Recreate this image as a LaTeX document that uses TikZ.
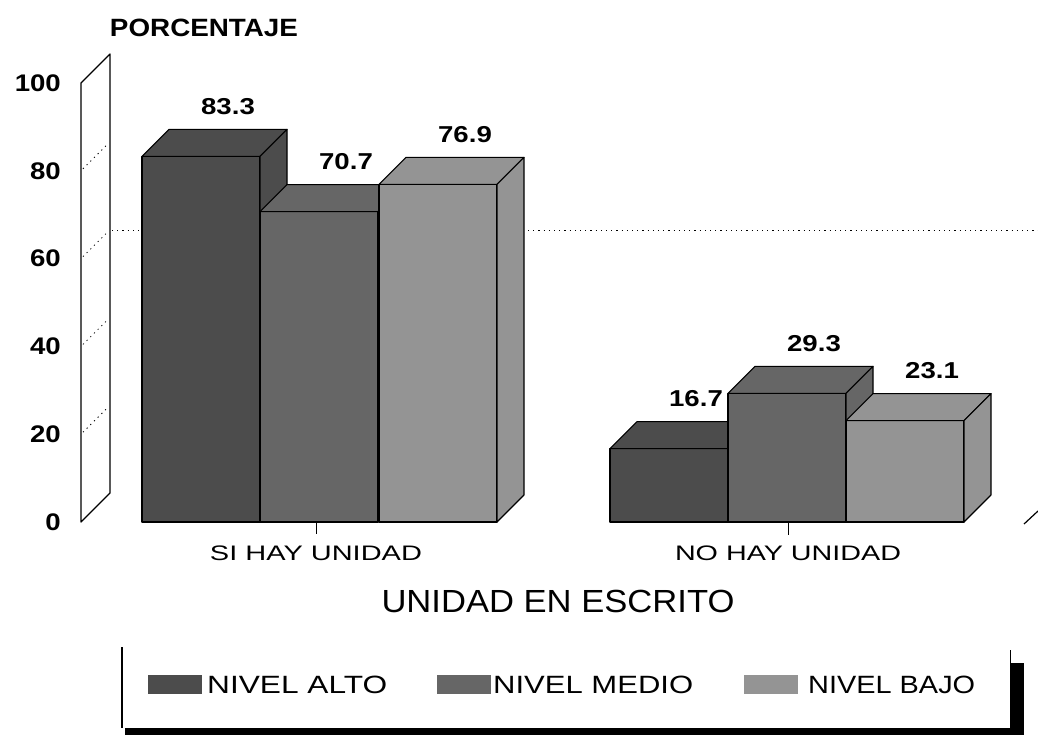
\documentclass[tikz,border=0pt]{standalone}
\usepackage{fontspec}
\setmainfont{Liberation Sans}
\usepackage{graphicx}
\definecolor{alto}{gray}{0.30}
\definecolor{medio}{gray}{0.40}
\definecolor{bajo}{gray}{0.58}
\tikzset{
  edge/.style={draw=black, line width=1.1pt, line join=round},
  wall/.style={draw=black, line width=1.3pt, line join=round},
  grid/.style={draw=black, line width=0.8pt, dash pattern=on 1.2pt off 4pt},
  ylab/.style={anchor=east, inner sep=0pt, font=\fontsize{24}{24}\selectfont\bfseries},
  val/.style={inner sep=0pt, font=\fontsize{23}{23}\selectfont\bfseries},
  cat/.style={inner sep=0pt, font=\fontsize{21}{21}\selectfont},
  ttl/.style={inner sep=0pt, font=\fontsize{32}{32}\selectfont},
  leg/.style={anchor=west, inner sep=0pt, font=\fontsize{25}{25}\selectfont},
  swatch/.style={minimum width=54pt, minimum height=19pt, inner sep=0pt},
}
\newcommand\tdbar[4]{%
  \pgfmathsetmacro\yt{522-4.39*#2}%
  \pgfmathsetmacro\xr{#1+118}%
  \filldraw[edge, fill=#3] (#1,522) rectangle (\xr,\yt);
  \filldraw[edge, fill=#3] (#1,\yt) -- ++(27,-27) -- ++(118,0) -- (\xr,\yt) -- cycle;
  \filldraw[edge, fill=#3] (\xr,522) -- (\xr,\yt) -- ++(27,-27) -- (\xr+27,495) -- cycle;
  \node[val] (#4) at (#1+86,\yt-50) {\scalebox{1.2}[1]{#2}};
}
\begin{document}
\begin{tikzpicture}[x=1pt, y=-1pt]
\useasboundingbox (0,0) rectangle (1038,737);
\fill[white] (0,0) rectangle (1038,737);

% axis wall
\draw[wall] (81,522) -- (81,83) -- (110,54) -- (110,493) -- cycle;
\foreach \v in {20,40,60,80} {
  \draw[grid] (83,{522-4.39*\v-2}) -- (108,{522-4.39*\v-27});
}
% back gridline at 60
\draw[grid] (112,{522-4.39*60-28}) -- (1038,{522-4.39*60-28});

% y labels
\foreach \v/\n in {0/y0,20/y20,40/y40,60/y60,80/y80,100/y100} {
  \node[ylab] (\n) at (61,{522-4.39*\v}) {\scalebox{1.15}[1]{\v}};
}
\node[inner sep=0pt, font=\fontsize{25}{25}\selectfont\bfseries] (ptitle) at (204,28) {\resizebox{188pt}{\height}{PORCENTAJE}};

% bars, group 1
\tdbar{142}{83.3}{alto}{v1}
\tdbar{260}{70.7}{medio}{v2}
\tdbar{379}{76.9}{bajo}{v3}
% bars, group 2
\tdbar{610}{16.7}{alto}{v4}
\tdbar{728}{29.3}{medio}{v5}
\tdbar{846}{23.1}{bajo}{v6}

% ticks and floor edge
\coordinate (t1a) at (316,522); \coordinate (t1b) at (316,534);
\coordinate (t2a) at (788,522); \coordinate (t2b) at (788,535);
\draw[line width=1pt] (t1a) -- (t1b);
\draw[line width=1pt] (t2a) -- (t2b);
\coordinate (f1) at (1024,524); \coordinate (f2) at (1038,511);
\draw[line width=1.2pt] (f1) -- (f2);

% category labels
\node[cat] (c1) at (316,553) {\resizebox{212pt}{\height}{SI HAY UNIDAD}};
\node[cat] (c2) at (788,553) {\resizebox{226pt}{\height}{NO HAY UNIDAD}};
\node[ttl] (xt) at (558,601) {\resizebox{353pt}{\height}{UNIDAD EN ESCRITO}};

% legend frame
\coordinate (l1) at (122,647); \coordinate (l2) at (122,728);
\draw[line width=1.3pt] (l1) -- (l2);
\fill[black] (125,728) rectangle (1024,735);
\fill[black] (1010,663) rectangle (1024,735);
\coordinate (r1) at (1010.5,650); \coordinate (r2) at (1010.5,663);
\draw[line width=1pt] (r1) -- (r2);

% legend items
\node[swatch, fill=alto] (s1) at (175,684.5) {};
\node[leg] (n1) at (207,685) {\resizebox{180pt}{\height}{NIVEL ALTO}};
\node[swatch, fill=medio] (s2) at (464,684.5) {};
\node[leg] (n2) at (493,685) {\resizebox{200pt}{\height}{NIVEL MEDIO}};
\node[swatch, fill=bajo] (s3) at (771,684.5) {};
\node[leg] (n3) at (808,685) {\resizebox{167pt}{\height}{NIVEL BAJO}};
\end{tikzpicture}
\end{document}
